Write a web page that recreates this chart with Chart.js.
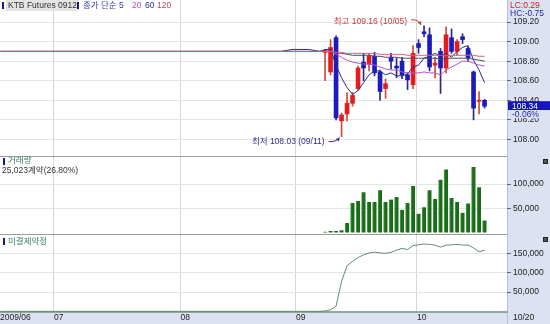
<!DOCTYPE html>
<html>
<head>
<meta charset="utf-8">
<script src="https://cdn.jsdelivr.net/npm/chart.js@4.4.0/dist/chart.umd.min.js"></script>
<style>
  body { margin: 0; width: 550px; height: 324px; position: relative; overflow: hidden; background: #fff;
         font-family: "Liberation Sans", "Noto Sans CJK KR", sans-serif; }
  .abs { position: absolute; }
  .txt { position: absolute; font-size: 8.5px; line-height: 11px; white-space: nowrap; }
  .mark { position: absolute; width: 2px; height: 7px; background: #1a1a7a; }
  .icon { position: absolute; width: 3px; height: 3px; border: 1px solid #222; background: #555; }
</style>
</head>
<body>
<div class="abs" style="left:507px;top:0;width:43px;height:324px;background:#dce2f1;border-left:1px solid #b4bfd9;box-sizing:border-box"></div>
<div class="abs" style="left:0;top:312px;width:507px;height:12px;background:#dce2f1"></div>

<div class="abs" style="left:0;top:0;width:550px;height:156px"><canvas id="priceChart"></canvas></div>
<div class="abs" style="left:0;top:157px;width:550px;height:78px"><canvas id="volumeChart"></canvas></div>
<div class="abs" style="left:0;top:235px;width:550px;height:89px"><canvas id="oiChart"></canvas></div>

<div class="abs" style="left:0;top:156px;width:507px;height:1px;background:#9c9c9c"></div>
<div class="abs" style="left:0;top:234px;width:507px;height:1px;background:#9c9c9c"></div>

<!-- price panel header -->
<div class="mark" style="left:2px;top:2px"></div>
<div class="txt" style="left:6px;top:0;height:11px;padding:0 2px;background:#e4e4e4;color:#333">KTB Futures 0912</div>
<div class="mark" style="left:77px;top:2px"></div>
<div class="txt" style="left:83px;top:0;color:#3443a0">종가 단순 5</div>
<div class="txt" style="left:132px;top:0;color:#c04fc4">20</div>
<div class="txt" style="left:145px;top:0;color:#2c2c88">60</div>
<div class="txt" style="left:157px;top:0;color:#d0405e">120</div>
<div class="txt" style="left:510px;top:0;color:#d42020">LC:0.29</div>
<div class="txt" style="left:510px;top:8px;color:#2828a8">HC:-0.75</div>

<!-- volume panel header -->
<div class="mark" style="left:3px;top:158px"></div>
<div class="txt" style="left:8px;top:155px;color:#3a8062">거래량</div>
<div class="txt" id="volInfo" style="left:2px;top:165px;color:#333"></div>
<div class="icon" style="left:543px;top:159px"></div>

<!-- open interest panel header -->
<div class="mark" style="left:3px;top:238px"></div>
<div class="txt" style="left:8px;top:236px;color:#3a8062">미결제약정</div>
<div class="icon" style="left:543px;top:237px"></div>

<div class="txt" id="lastDate" style="left:513px;top:312px;color:#222"></div>

<script>
// trading-day index 0 = 2009/06/17
const monthLabels = ['2009/06', '07', '08', '09', '10'];
const monthStartDay = [0, 10, 33, 54, 76];
const firstCandleDay = 59;

const candleDates = ['09/08', '09/09', '09/10', '09/11', '09/14', '09/15', '09/16', '09/17', '09/18', '09/21',
  '09/22', '09/23', '09/24', '09/25', '09/28', '09/29', '09/30', '10/01', '10/05', '10/06',
  '10/07', '10/08', '10/09', '10/12', '10/13', '10/14', '10/15', '10/16', '10/19', '10/20'];

const open = [108.89, 108.69, 109.04, 108.19, 108.26, 108.37, 108.52, 108.79, 108.77, 108.85,
  108.69, 108.52, 108.84, 108.75, 108.80, 108.66, 108.56, 108.98, 109.10, 109.07,
  108.76, 108.90, 108.73, 109.04, 108.90, 109.05, 108.93, 108.69, 108.39, 108.40];
const high = [108.92, 109.02, 109.06, 108.27, 108.48, 108.48, 108.75, 108.88, 108.88, 108.89,
  108.71, 108.62, 108.88, 108.83, 108.84, 108.68, 108.96, 109.02, 109.16, 109.14,
  108.84, 108.93, 109.15, 109.13, 109.02, 109.08, 108.95, 108.70, 108.49, 108.41];
const low = [108.60, 108.66, 108.20, 108.03, 108.19, 108.34, 108.50, 108.60, 108.70, 108.65,
  108.40, 108.42, 108.72, 108.63, 108.62, 108.51, 108.52, 108.88, 109.05, 108.70,
  108.63, 108.47, 108.68, 108.88, 108.86, 108.98, 108.80, 108.20, 108.26, 108.32];
const close = [108.91, 108.94, 108.22, 108.25, 108.37, 108.45, 108.73, 108.73, 108.85, 108.68,
  108.49, 108.57, 108.80, 108.73, 108.66, 108.61, 108.88, 108.94, 109.08, 108.74,
  108.78, 108.73, 109.07, 108.90, 109.00, 109.02, 108.83, 108.32, 108.40, 108.34];

// moving averages (종가 단순 5 / 20 / 60 / 120)
const ma5 = [108.92, 108.92, 108.76, 108.63, 108.53, 108.46, 108.50, 108.58, 108.66, 108.70,
  108.70, 108.66, 108.68, 108.65, 108.65, 108.67, 108.74, 108.76, 108.83, 108.85,
  108.88, 108.85, 108.88, 108.84, 108.90, 108.94, 108.96, 108.81, 108.71, 108.58];
const ma20 = [108.90, 108.90, 108.87, 108.84, 108.81, 108.79, 108.78, 108.77, 108.77, 108.76,
  108.74, 108.72, 108.71, 108.71, 108.69, 108.68, 108.68, 108.68, 108.69, 108.68,
  108.68, 108.66, 108.71, 108.74, 108.77, 108.80, 108.80, 108.78, 108.76, 108.75];
const ma60 = [108.90, 108.90, 108.89, 108.88, 108.87, 108.86, 108.86, 108.86, 108.86, 108.85,
  108.85, 108.84, 108.84, 108.84, 108.83, 108.83, 108.83, 108.83, 108.83, 108.83,
  108.83, 108.82, 108.83, 108.83, 108.83, 108.83, 108.83, 108.82, 108.81, 108.80];
const ma120 = [108.90, 108.90, 108.89, 108.89, 108.88, 108.88, 108.88, 108.88, 108.88, 108.88,
  108.87, 108.87, 108.87, 108.87, 108.87, 108.86, 108.86, 108.86, 108.86, 108.86,
  108.86, 108.86, 108.86, 108.86, 108.86, 108.86, 108.86, 108.86, 108.85, 108.85];

// before listing: averages sit on the base price
const preDays = [0, 58];
const preLevel = [108.90, 108.90];
const ma5PreDays = [0, 51, 53, 56, 58];
const ma5PreLevel = [108.90, 108.90, 108.92, 108.92, 108.90];

const volume = [2000, 3300, 3300, 4700, 20000, 61000, 65000, 83000, 63000, 63000,
  87000, 63000, 68000, 73000, 47000, 61000, 96000, 39000, 52000, 87000,
  69000, 109000, 130000, 71000, 63000, 41000, 60000, 135000, 93370, 25023];

const openInterest = [1000, 4300, 13000, 77600, 118000, 129000, 139000, 146000, 151000, 153000,
  151000, 150000, 152500, 158000, 163000, 159500, 170000, 172000, 174000, 173000,
  171000, 166000, 171000, 172000, 173000, 171500, 171000, 164000, 154000, 158000];
const oiPreLevel = [0, 0];

const priceTicks = [108.00, 108.20, 108.40, 108.60, 108.80, 109.00, 109.20];
const volumeTicks = [50000, 100000];
const oiTicks = [50000, 100000, 150000];

const FONT = '"Liberation Sans", "Noto Sans CJK KR", sans-serif';
Chart.defaults.font.family = FONT;
Chart.defaults.font.size = 8.5;
Chart.defaults.color = '#222';
Chart.defaults.animation = false;
Chart.defaults.plugins.legend.display = false;
Chart.defaults.plugins.tooltip.enabled = false;

const xMin = -0.1;
const xMax = xMin + 507 / 5.5;
const last = close.length - 1;
const dayOf = i => firstCandleDay + i;
const isUp = close.map((c, i) => c >= open[i]);

const pts = (arr) => arr.map((v, i) => ({ x: dayOf(i), y: v }));
const prePts = (days, vals) => days.map((d, i) => ({ x: d, y: vals[i] }));

function noPad(s) {
  s.paddingTop = 0;
  s.paddingBottom = 0;
  s.paddingLeft = 0;
  s.paddingRight = 0;
}

function timeAxis(showLabels) {
  return {
    type: 'linear',
    min: xMin,
    max: xMax,
    offset: false,
    afterBuildTicks: s => { s.ticks = monthStartDay.map((d, k) => ({ value: k === 0 ? xMin : d - 0.3 })); },
    afterFit: s => { s.height = showLabels ? 12 : 0; noPad(s); },
    grid: { offset: false, drawTicks: false, color: c => c.index === 0 ? 'rgba(0,0,0,0)' : '#d6d6d6' },
    border: showLabels ? { display: true, color: '#8fa99b', width: 2 } : { display: false },
    ticks: {
      display: showLabels, align: 'start', padding: 1, autoSkip: false, maxRotation: 0,
      callback: (v, k) => monthLabels[k]
    }
  };
}

function valueAxis(min, max, tickList, fmt) {
  return {
    position: 'right',
    min, max,
    afterBuildTicks: s => { s.ticks = tickList.map(v => ({ value: v })); },
    afterFit: s => { s.width = 43; noPad(s); },
    grid: { color: '#e4e4e4', tickColor: '#6a6a6a', tickLength: 4 },
    border: { display: false },
    ticks: { padding: 2, callback: fmt }
  };
}

function arrow(ctx, x0, y0, cx, cy, x1, y1, color) {
  ctx.strokeStyle = color;
  ctx.fillStyle = color;
  ctx.lineWidth = 1;
  ctx.beginPath();
  ctx.moveTo(x0, y0);
  ctx.quadraticCurveTo(cx, cy, x1, y1);
  ctx.stroke();
  const a = Math.atan2(y1 - cy, x1 - cx);
  ctx.beginPath();
  ctx.moveTo(x1, y1);
  ctx.lineTo(x1 - 4 * Math.cos(a - 0.5), y1 - 4 * Math.sin(a - 0.5));
  ctx.lineTo(x1 - 4 * Math.cos(a + 0.5), y1 - 4 * Math.sin(a + 0.5));
  ctx.closePath();
  ctx.fill();
}

// high / low notes and last price box
const priceNotes = {
  id: 'priceNotes',
  afterDraw(chart) {
    const { ctx, scales: { x, y } } = chart;
    ctx.save();
    ctx.font = '8.5px ' + FONT;
    ctx.textBaseline = 'middle';

    const hi = high.indexOf(Math.max(...high));
    const hx = x.getPixelForValue(dayOf(hi)), hy = y.getPixelForValue(high[hi]);
    ctx.fillStyle = '#c43c3c';
    ctx.textAlign = 'right';
    ctx.fillText(`최고 ${high[hi].toFixed(2)} (${candleDates[hi]})`, hx - 17, hy - 4);
    arrow(ctx, hx - 13, hy - 6, hx - 6, hy - 7, hx - 3, hy - 1, '#c43c3c');

    const lo = low.indexOf(Math.min(...low));
    const lx = x.getPixelForValue(dayOf(lo)), ly = y.getPixelForValue(low[lo]);
    ctx.fillStyle = '#2e2e98';
    ctx.fillText(`최저 ${low[lo].toFixed(2)} (${candleDates[lo]})`, lx - 17, ly + 5);
    arrow(ctx, lx - 13, ly + 5, lx - 6, ly + 6, lx - 2, ly + 1, '#2e2e98');

    const py = y.getPixelForValue(close[last]);
    ctx.fillStyle = '#1616b4';
    ctx.fillRect(x.right + 1, py - 5, 43, 9);
    ctx.fillStyle = '#fff';
    ctx.textAlign = 'left';
    ctx.fillText(close[last].toFixed(2), x.right + 5, py);
    ctx.fillStyle = '#dce2f1';
    ctx.fillRect(x.right + 1, py + 4, 43, 8);
    ctx.fillStyle = '#2323b0';
    const pct = (close[last] - close[last - 1]) / close[last - 1] * 100;
    ctx.fillText(pct.toFixed(2) + '%', x.right + 5, py + 8);
    ctx.restore();
  }
};

function maLine(preD, preV, arr, color) {
  return {
    type: 'line',
    data: [...prePts(preD, preV), ...pts(arr)],
    borderColor: color,
    borderWidth: 1,
    pointRadius: 0,
    order: 0
  };
}

new Chart(document.getElementById('priceChart'), {
  type: 'bar',
  data: {
    datasets: [
      maLine(preDays, preLevel, ma120, '#d2607e'),
      maLine(preDays, preLevel, ma60, '#4a4a6c'),
      maLine(preDays, preLevel, ma20, '#b455c4'),
      maLine(ma5PreDays, ma5PreLevel, ma5, '#2a2a86'),
      {
        data: open.map((o, i) => ({ x: dayOf(i), y: [o, close[i]] })),
        backgroundColor: isUp.map(u => u ? '#e41c1c' : '#1c1cbc'),
        barThickness: 4,
        minBarLength: 1,
        grouped: false,
        order: 1
      },
      {
        data: low.map((l, i) => ({ x: dayOf(i), y: [l, high[i]] })),
        backgroundColor: isUp.map(u => u ? '#cf4a3a' : '#2a2a86'),
        barThickness: 1,
        grouped: false,
        order: 2
      }
    ]
  },
  options: {
    responsive: true,
    maintainAspectRatio: false,
    layout: { padding: 0 },
    scales: {
      x: timeAxis(false),
      y: valueAxis(107.831, 109.425, priceTicks, v => v.toFixed(2))
    }
  },
  plugins: [priceNotes]
});

const fmtThousands = v => v.toLocaleString('en-US');

new Chart(document.getElementById('volumeChart'), {
  type: 'bar',
  data: {
    datasets: [{
      data: pts(volume),
      backgroundColor: '#1b6b1b',
      borderColor: '#4f9f4f',
      borderWidth: { left: 1, right: 0, top: 0, bottom: 0 },
      barThickness: 4,
      grouped: false
    }]
  },
  options: {
    responsive: true,
    maintainAspectRatio: false,
    layout: { padding: 0 },
    scales: {
      x: timeAxis(false),
      y: valueAxis(-4938, 155556, volumeTicks, fmtThousands)
    }
  }
});

new Chart(document.getElementById('oiChart'), {
  type: 'line',
  data: {
    datasets: [{
      data: [...prePts(preDays, oiPreLevel), ...pts(openInterest)],
      borderColor: '#5f8f70',
      borderWidth: 1,
      pointRadius: 0
    }]
  },
  options: {
    responsive: true,
    maintainAspectRatio: false,
    layout: { padding: 0 },
    scales: {
      x: timeAxis(true),
      y: valueAxis(-1680, 197300, oiTicks, fmtThousands)
    }
  }
});

document.getElementById('volInfo').textContent =
  `${volume[last].toLocaleString('en-US')}계약(${(volume[last] / volume[last - 1] * 100).toFixed(2)}%)`;
document.getElementById('lastDate').textContent = candleDates[last];
</script>
</body>
</html>
